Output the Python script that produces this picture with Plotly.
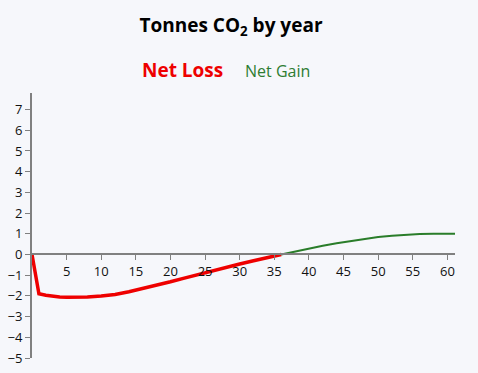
import plotly.graph_objects as go

title_text = "Tonnes CO<sub>2</sub> by year"
loss_name = "Net Loss"
gain_name = "Net Gain"

loss_years = [0, 1, 2, 3, 4, 5, 6, 8, 10, 12, 14, 16, 18, 20, 22, 24, 26, 28, 30, 32, 34, 35, 36]
loss_values = [0, -1.9, -1.97, -2.02, -2.05, -2.06, -2.06, -2.05, -2.01, -1.93, -1.80, -1.65, -1.49,
               -1.32, -1.14, -0.96, -0.79, -0.62, -0.46, -0.30, -0.15, -0.08, 0.0]

gain_years = [36, 38, 40, 42, 44, 46, 48, 50, 52, 54, 56, 58, 60, 62]
gain_values = [0.0, 0.15, 0.30, 0.42, 0.54, 0.65, 0.75, 0.84, 0.91, 0.96, 0.99, 1.0, 1.0, 1.0]

x_ticks = [5, 10, 15, 20, 25, 30, 35, 40, 45, 50, 55, 60]
y_ticks = [-5, -4, -3, -2, -1, 0, 1, 2, 3, 4, 5, 6, 7]

y_min, y_max = -5, 7.8
bg = "#f6f7fb"
font_family = "Open Sans, Noto Sans, sans-serif"

W, H = 478, 373
ml, mr, mt, mb = 32, 23, 93, 15
pw = W - ml - mr
ph = H - mt - mb

fig = go.Figure()
fig.add_trace(go.Scatter(x=loss_years, y=loss_values, mode="lines",
                         line=dict(color="#ee0000", width=3.5), name=loss_name,
                         showlegend=False, hoverinfo="skip"))
fig.add_trace(go.Scatter(x=gain_years, y=gain_values, mode="lines",
                         line=dict(color="#2a7d2a", width=2), name=gain_name,
                         showlegend=False, hoverinfo="skip"))

fig.update_layout(
    width=W, height=H,
    margin=dict(l=ml, r=mr, t=mt, b=mb, autoexpand=False),
    paper_bgcolor=bg, plot_bgcolor=bg,
    font=dict(family=font_family, size=13, color="#111"),
    title=dict(text=title_text, x=231 / W, xanchor="center",
               xref="container", y=1 - 25 / H, yanchor="middle",
               font=dict(size=19, color="#000", family=font_family, weight="bold")),
)
fig.add_annotation(text=loss_name, x=(140 - ml) / pw, y=(H - mb - 70) / ph,
                   xref="paper", yref="paper", xanchor="left", yanchor="middle",
                   showarrow=False,
                   font=dict(size=19, color="#ee0000", family=font_family, weight="bold"))
fig.add_annotation(text=gain_name, x=(243 - ml) / pw, y=(H - mb - 71) / ph,
                   xref="paper", yref="paper", xanchor="left", yanchor="middle",
                   showarrow=False,
                   font=dict(size=16, color="#2e7d32", family=font_family))

fig.update_xaxes(range=[0, 61.1], tickvals=x_ticks, ticks="outside", ticklen=5,
                 tickcolor="#808080", showline=True, linecolor="#808080", linewidth=2,
                 showgrid=False, zeroline=False, anchor="free", automargin=False,
                 position=(0 - y_min) / (y_max - y_min),
                 tickfont=dict(size=13, color="#111"))
fig.update_yaxes(range=[y_min, y_max], tickvals=y_ticks, ticks="outside", ticklen=5,
                 tickcolor="#808080", showline=True, linecolor="#808080", linewidth=2,
                 showgrid=False, zeroline=False, automargin=False,
                 tickfont=dict(size=13, color="#111"), ticklabelstandoff=0)

fig.write_html("out.html", config={"displayModeBar": False},
               post_script=f"document.body.style.margin='0';document.body.style.background='{bg}';")
